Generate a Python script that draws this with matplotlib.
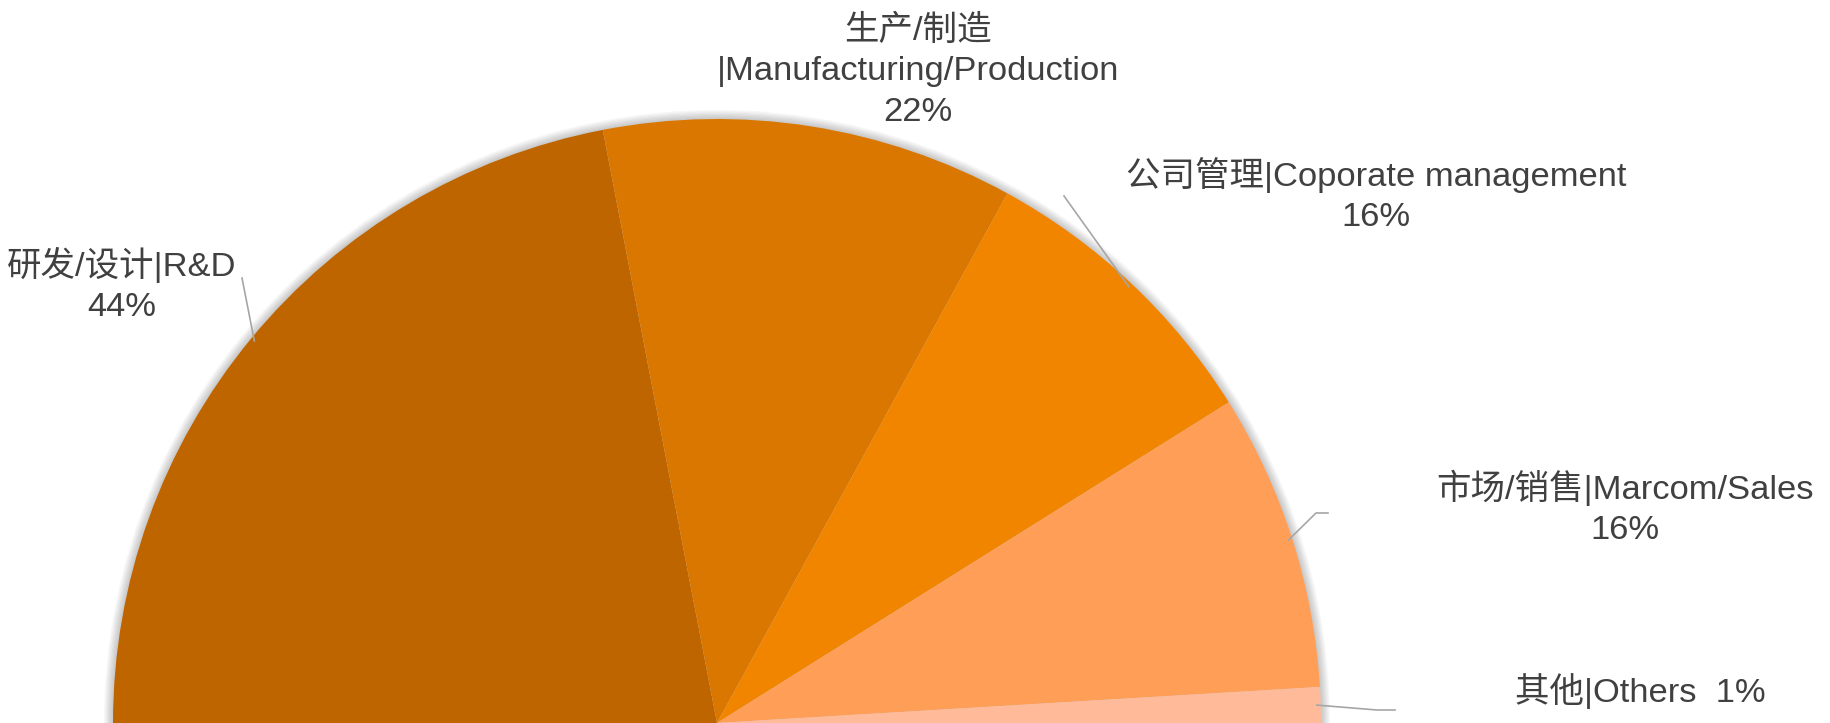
import numpy as np
import matplotlib.pyplot as plt
from matplotlib.patches import Wedge

plt.rcParams['font.family'] = ['Liberation Sans', 'Noto Sans CJK SC', 'DejaVu Sans']

# data (share of the visible half circle)
categories = ['研发/设计|R&D', '生产/制造\n|Manufacturing/Production', '公司管理|Coporate management',
              '市场/销售|Marcom/Sales', '其他|Others']
pct_labels = ['44%', '22%', '16%', '16%', '1%']
shares = [43.9, 22.0, 16.2, 15.9, 1.9]
colors = ['#BF6500', '#DA7700', '#F28500', '#FF9E57', '#FFBB99']

W, H = 1830, 723
cx, cy, R = 717, 0, 604

fig = plt.figure(figsize=(W / 100, H / 100), dpi=100)
ax = fig.add_axes([0, 0, 1, 1])

# soft shadow around the half pie
for k in range(1, 8):
    ax.add_patch(Wedge((cx, cy), R + k * 1.3, 0, 180, color='black', alpha=0.03, lw=0, zorder=0))

# half pie: add an invisible lower half equal to the total
vals = shares + [sum(shares)]
wedges, _ = ax.pie(vals, colors=colors + ['white'], startangle=180, counterclock=False,
                   center=(cx, cy), radius=R, wedgeprops=dict(linewidth=0))
wedges[-1].set_visible(False)
for w in wedges[:-1]:
    w.set_zorder(2)

# label layout in pixels (x, y from top), leader start points
label_pos = [(122, 285), (918, 71), (1376, 195), (1625, 508), (1640, 691)]
leader_pts = [[(242, 278)], None, [(1064, 196)], [(1328, 513), (1316, 513)], [(1395, 710), (1377, 710)]]

for i, w in enumerate(wedges[:-1]):
    if i == 4:
        txt = categories[i] + '  ' + pct_labels[i]
    else:
        txt = categories[i] + '\n' + pct_labels[i]
    lx, ly = label_pos[i]
    ax.text(lx, H - ly, txt, ha='center', va='center', fontsize=24.8, color='#404040',
            linespacing=1.4, zorder=5)
    if leader_pts[i] is not None:
        mid = np.deg2rad((w.theta1 + w.theta2) / 2)
        ex, ey = cx + (R - 4) * np.cos(mid), cy + (R - 4) * np.sin(mid)
        xs = [p[0] for p in leader_pts[i]] + [ex]
        ys = [H - p[1] for p in leader_pts[i]] + [ey]
        ax.plot(xs, ys, color='#A6A6A6', lw=1.2, zorder=3)

ax.set_xlim(0, W)
ax.set_ylim(0, H)
ax.set_aspect('equal')
ax.axis('off')

plt.savefig('out.png', dpi=100)
